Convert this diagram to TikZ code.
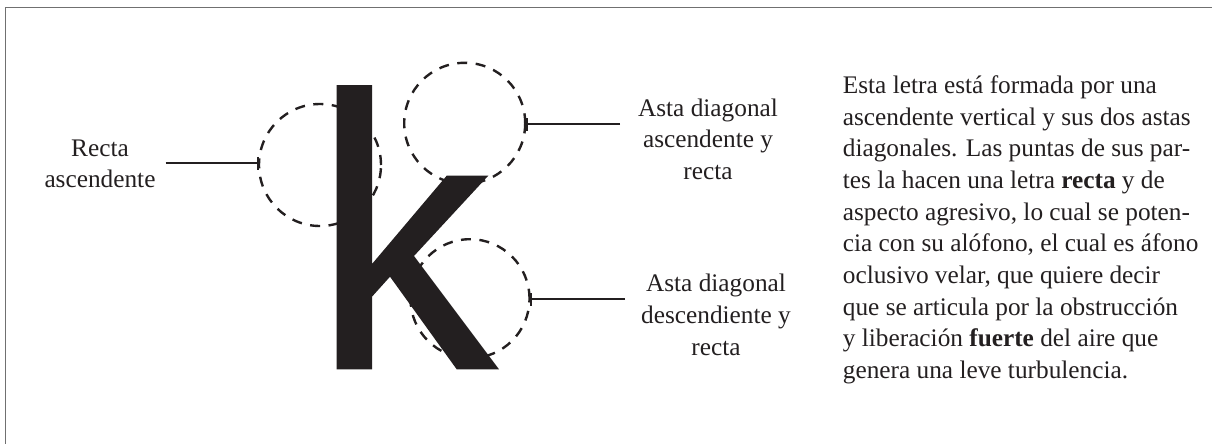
\documentclass[tikz,border=0pt]{standalone}
\usepackage{fontspec}
\setmainfont{Liberation Serif}
\usetikzlibrary{arrows.meta}
\definecolor{ink}{RGB}{35,31,32}
\definecolor{framegray}{RGB}{112,112,112}
% lines centred on one another; the box baseline is the first line's baseline
\newcommand\centredlines[1]{\vtop{\halign{\hfil##\hfil\cr#1\crcr}}}
% lines set flush left; the box baseline is the first line's baseline
\newcommand\leftlines[1]{\vtop{\halign{##\hfil\cr#1\crcr}}}
\tikzset{
  ring/.style={circle, draw=ink, line width=2.4pt, dash pattern=on 10pt off 8.5pt,
    inner sep=0, outer sep=0, minimum size=#1},
  lead/.style={draw=ink, line width=2.3pt, -{Bar[width=13pt]}},
  label/.style={inner sep=0, anchor=base, text=ink,
    font=\fontsize{25.3}{31.7}\selectfont},
  prose/.style={inner sep=0, anchor=base west, text=ink,
    font=\fontsize{25.3}{31.7}\selectfont},
}
\begin{document}
\begin{tikzpicture}[x=1pt, y=-1pt]
\useasboundingbox (0,0) rectangle (1212,444);
% outer frame
\draw[framegray, line width=1.8pt] (5.5,450) -- (5.5,7.5) -- (1220,7.5);

% the highlighted regions of the letter
\node[ring=122] (cL) at (320,165) {};
\node[ring=121] (cT) at (464.7,123.3) {};
\node[ring=119] (cB) at (470,298.7) {};

% the letter K
\fill[ink] (336.7,85) -- (372,85) -- (372,264) -- (446.7,175.7) -- (488.3,175.7)
  -- (414,256) -- (499,369.3) -- (456.7,369.3) -- (390,276.7) -- (372,296.7)
  -- (372,369.3) -- (336.7,369.3) -- cycle;

% labels
\node[label] (tL) at (100,156) {\centredlines{Recta\cr ascendente}};
\node[label] (tT) at (708,116) {\centredlines{Asta diagonal\cr ascendente y\cr recta}};
\node[label] (tB) at (716,291.7) {\centredlines{Asta diagonal\cr descendiente y\cr recta}};

% leader lines
\coordinate (aL) at (165.7,163.3);
\coordinate (aT) at (620,124.3);
\coordinate (aB) at (625,299.3);
\draw[lead] (aL) -- (aL -| cL.west);
\draw[lead] (aT) -- (aT -| cT.east);
\draw[lead] (aB) -- (aB -| cB.east);

% description
\node[prose] (desc) at (842.7,93.3) {\leftlines{%
Esta letra está formada por una\cr
ascendente vertical y sus dos astas\cr
diagonales. Las puntas de sus par-\cr
tes la hacen una letra \textbf{recta} y de\cr
aspecto agresivo, lo cual se poten-\cr
cia con su alófono, el cual es áfono\cr
oclusivo velar, que quiere decir\cr
que se articula por la obstrucción\cr
y liberación \textbf{fuerte} del aire que\cr
genera una leve turbulencia.}};
\end{tikzpicture}
\end{document}
